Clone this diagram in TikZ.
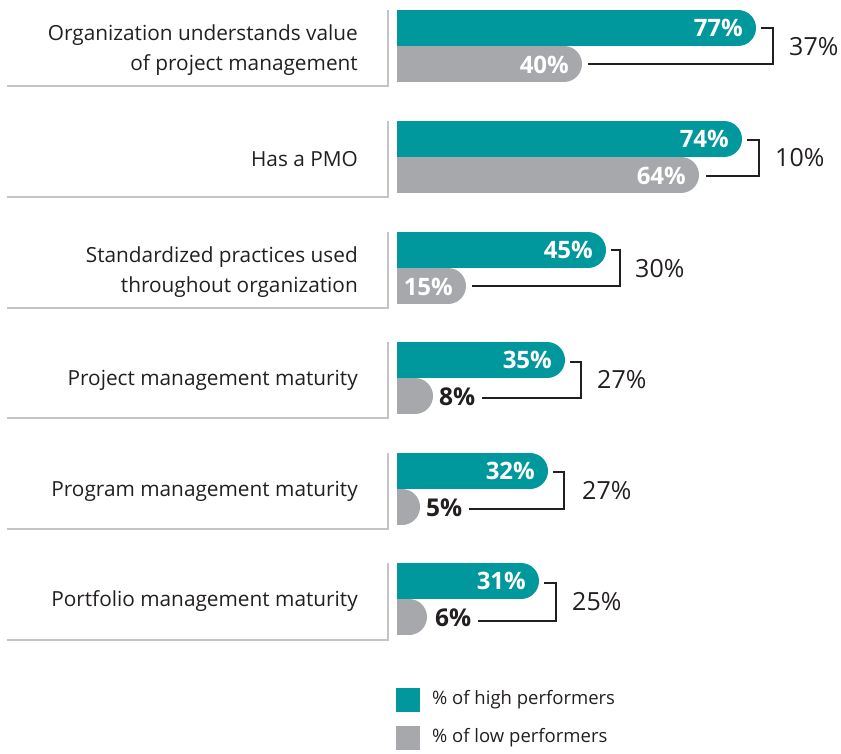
\documentclass[tikz,border=0pt]{standalone}
\usepackage{fontspec}
\setmainfont{Open Sans}
\definecolor{hicol}{HTML}{00979D}
\definecolor{locol}{HTML}{A7A8AB}
\definecolor{txtcol}{HTML}{231F20}
\definecolor{framecol}{HTML}{C4C4C4}
\tikzset{
  labeltxt/.style={inner sep=0pt, align=right, text=txtcol, font=\fontsize{20.8}{30}\selectfont},
  inlab/.style={inner sep=0pt, text=white, font=\fontsize{24}{26}\selectfont\bfseries},
  outlab/.style={inner sep=0pt, text=txtcol, font=\fontsize{24.5}{26}\selectfont\bfseries},
  dlab/.style={inner sep=0pt, text=txtcol, font=\fontsize{25}{26}\selectfont},
  legtxt/.style={inner sep=0pt, text=txtcol, font=\fontsize{18.5}{22}\selectfont},
  frame/.style={draw=framecol, line width=2pt},
  brk/.style={draw=txtcol, line width=1.3pt},
}
% #1 top y, #2 end x, #3 colour
\newcommand\mybar[3]{\begin{scope}
  \clip (397,#1) rectangle (#2,{#1+36});
  \fill[#3] (397,#1) rectangle ({#2-18},{#1+36});
  \fill[#3] ({#2-18},{#1+18}) circle[radius=18];
\end{scope}}
\begin{document}
\begin{tikzpicture}[x=1pt,y=-1pt]
\useasboundingbox (0,0) rectangle (841,754);

% ---------- group 1
\draw[frame] (7,86) -- (388,86) -- (388,10);
\node[labeltxt, anchor=east] (lab1) at (358,50) {Organization understands value\\of project management};
\mybar{10}{756}{hicol}
\mybar{46}{582}{locol}
\node[inlab, anchor=east] (hv1) at (743,28) {77\%};
\node[inlab, anchor=east] (lv1) at (569,65) {40\%};
\coordinate (hs1) at (761,28);
\coordinate (ls1) at (588,64);
\draw[brk] (hs1) -- ++(12,0) |- (ls1);
\node[dlab, anchor=west] (d1) at (789,47) {37\%};

% ---------- group 2
\draw[frame] (7,197) -- (388,197) -- (388,121);
\node[labeltxt, anchor=east] (lab2) at (358,159) {Has a PMO};
\mybar{121}{742}{hicol}
\mybar{157}{699}{locol}
\node[inlab, anchor=east] (hv2) at (729,139) {74\%};
\node[inlab, anchor=east] (lv2) at (686,176) {64\%};
\coordinate (hs2) at (747,140);
\coordinate (ls2) at (706,176);
\draw[brk] (hs2) -- ++(12,0) |- (ls2);
\node[dlab, anchor=west] (d2) at (775,158) {10\%};

% ---------- group 3
\draw[frame] (7,308) -- (388,308) -- (388,232);
\node[labeltxt, anchor=east] (lab3) at (358,272) {Standardized practices used\\throughout organization};
\mybar{232}{606}{hicol}
\mybar{268}{466}{locol}
\node[inlab, anchor=east] (hv3) at (593,250) {45\%};
\node[inlab, anchor=east] (lv3) at (453,287) {15\%};
\coordinate (hs3) at (611,250);
\coordinate (ls3) at (472,286);
\draw[brk] (hs3) -- ++(9,0) |- (ls3);
\node[dlab, anchor=west] (d3) at (635,269) {30\%};

% ---------- group 4
\draw[frame] (7,418) -- (388,418) -- (388,342);
\node[labeltxt, anchor=east] (lab4) at (358,380) {Project management maturity};
\mybar{342}{565}{hicol}
\mybar{378}{433}{locol}
\node[inlab, anchor=east] (hv4) at (552,360) {35\%};
\node[outlab, anchor=west] (lv4) at (439,397) {8\%};
\coordinate (hs4) at (570,362);
\coordinate (ls4) at ([xshift=7pt]lv4.east |- 0,398);
\draw[brk] (hs4) -- ++(11,0) |- (ls4);
\node[dlab, anchor=west] (d4) at (597,380) {27\%};

% ---------- group 5
\draw[frame] (7,529) -- (388,529) -- (388,453);
\node[labeltxt, anchor=east] (lab5) at (358,491) {Program management maturity};
\mybar{453}{548}{hicol}
\mybar{489}{420}{locol}
\node[inlab, anchor=east] (hv5) at (535,471) {32\%};
\node[outlab, anchor=west] (lv5) at (426,508) {5\%};
\coordinate (hs5) at (553,472);
\coordinate (ls5) at ([xshift=7pt]lv5.east |- 0,509);
\draw[brk] (hs5) -- ++(11,0) |- (ls5);
\node[dlab, anchor=west] (d5) at (582,491) {27\%};

% ---------- group 6
\draw[frame] (7,640) -- (388,640) -- (388,563);
\node[labeltxt, anchor=east] (lab6) at (358,601) {Portfolio management maturity};
\mybar{563}{539}{hicol}
\mybar{599}{427}{locol}
\node[inlab, anchor=east] (hv6) at (526,581) {31\%};
\node[outlab, anchor=west] (lv6) at (435,618) {6\%};
\coordinate (hs6) at (544,583);
\coordinate (ls6) at ([xshift=7pt]lv6.east |- 0,621);
\draw[brk] (hs6) -- ++(12,0) |- (ls6);
\node[dlab, anchor=west] (d6) at (572,602) {25\%};

% ---------- legend
\fill[hicol] (396,688) rectangle (420,712);
\fill[locol] (396,726) rectangle (420,750);
\node[legtxt, anchor=west] (leg1) at (432,700) {\% of high performers};
\node[legtxt, anchor=west] (leg2) at (432,738) {\% of low performers};
\end{tikzpicture}
\end{document}
